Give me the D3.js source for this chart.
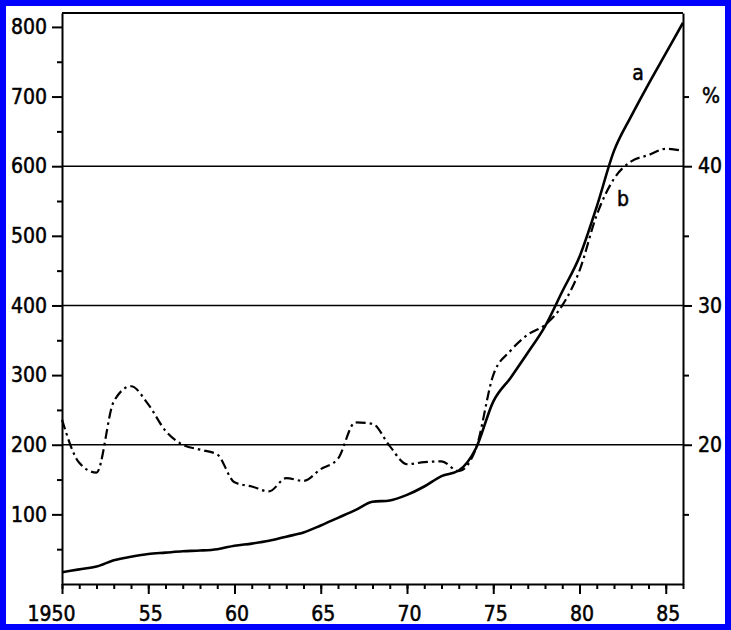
<!DOCTYPE html>
<html>
<head>
<meta charset="utf-8">
<script src="https://cdn.jsdelivr.net/npm/d3@7"></script>
<style>
  body { margin: 0; background: #fff; }
  svg text { font-family: "DejaVu Sans Condensed", "DejaVu Sans", sans-serif; font-stretch: condensed; font-size: 21px; fill: #000; stroke: #000; stroke-width: 0.5px; }
</style>
</head>
<body>
<div id="chart"></div>
<script>
// years on the x axis
var years = d3.range(1950, 1987);

// curve a, read on the left scale
var seriesA = [17, 21, 25, 34, 39, 43, 45, 47, 48, 50,
               55, 58, 62, 68, 74, 84, 95, 106, 118, 120,
               128, 140, 155, 163, 195, 262, 296, 332, 370, 420,
               470, 542, 622, 672, 718, 762, 806];

// curve b, read on the right (%) scale
var seriesB = [21.8, 18.7, 18.0, 23.1, 24.2, 22.9, 21.0, 20.0, 19.65, 19.3,
               17.3, 17.0, 16.65, 17.6, 17.4, 18.25, 19.0, 21.6, 21.5, 19.9,
               18.6, 18.75, 18.8, 18.1, 19.75, 25.0, 26.75, 27.9, 28.6, 30.0,
               32.5, 36.5, 39.1, 40.35, 40.8, 41.25, 41.1];

var leftTicks = [100, 200, 300, 400, 500, 600, 700, 800];
var leftMinor = [50, 150, 250, 350, 450, 550, 650, 750];
var rightTicks = [20, 30, 40];
var rightMinor = [15, 25, 35, 45];
var gridValues = [200, 400, 600];
var xMajor = [1950, 1955, 1960, 1965, 1970, 1975, 1980, 1985];

var W = 731, H = 630;
var mLeft = 62, mRight = 683, mTop = 13, mBottom = 584;

var svg = d3.select("#chart").append("svg")
    .attr("width", W)
    .attr("height", H);

var x = d3.scaleLinear().domain([1950, 1986]).range([mLeft, mRight]);
var yL = d3.scaleLinear().domain([0, 820]).range([mBottom, mTop]);
var yR = d3.scaleLinear().domain([10, 51]).range([mBottom, mTop]);

// grid lines
svg.selectAll("line.grid")
    .data(gridValues)
    .enter().append("line")
    .attr("class", "grid")
    .attr("x1", mLeft).attr("x2", mRight)
    .attr("y1", d => yL(d)).attr("y2", d => yL(d))
    .attr("stroke", "#000").attr("stroke-width", 1.6);

// frame top
svg.append("line")
    .attr("x1", mLeft).attr("x2", mRight)
    .attr("y1", mTop).attr("y2", mTop)
    .attr("stroke", "#000").attr("stroke-width", 2);

// left axis
svg.append("g")
    .attr("transform", `translate(${mLeft},0)`)
    .call(d3.axisLeft(yL).tickValues(leftMinor).tickSize(5).tickFormat(""))
    .call(g => g.select(".domain").remove());
svg.append("g")
    .attr("transform", `translate(${mLeft},0)`)
    .call(d3.axisLeft(yL).tickValues(leftTicks).tickSize(10).tickSizeOuter(0).tickPadding(5));

// right axis
svg.append("g")
    .attr("transform", `translate(${mRight},0)`)
    .call(d3.axisRight(yR).tickValues(rightMinor).tickSize(6).tickFormat(""))
    .call(g => g.select(".domain").remove());
svg.append("g")
    .attr("transform", `translate(${mRight},0)`)
    .call(d3.axisRight(yR).tickValues(rightTicks).tickSize(9).tickSizeOuter(0).tickPadding(6));

// bottom axis
svg.append("g")
    .attr("transform", `translate(0,${mBottom})`)
    .call(d3.axisBottom(x).tickValues(years).tickSize(5).tickFormat(""))
    .call(g => g.select(".domain").remove());
var gb = svg.append("g")
    .attr("transform", `translate(0,${mBottom})`)
    .call(d3.axisBottom(x).tickValues(xMajor).tickSize(10).tickSizeOuter(0).tickPadding(12)
        .tickFormat(d => d === 1950 ? "1950" : String(d % 100)));
gb.selectAll(".tick text").attr("dx", d => d === 1950 ? -11 : 2);

svg.selectAll(".tick line, .domain").attr("stroke", "#000").attr("stroke-width", 2);
svg.selectAll(".tick text").attr("font-size", null).attr("font-family", null);

// curve a
var lineA = d3.line()
    .x((d, i) => x(years[i]))
    .y(d => yL(d))
    .curve(d3.curveMonotoneX);
svg.append("path")
    .datum(seriesA)
    .attr("d", lineA)
    .attr("fill", "none")
    .attr("stroke", "#000")
    .attr("stroke-width", 2.6);

// curve b
var lineB = d3.line()
    .x((d, i) => x(years[i]))
    .y(d => yR(d))
    .curve(d3.curveMonotoneX);
svg.append("path")
    .datum(seriesB)
    .attr("d", lineB)
    .attr("fill", "none")
    .attr("stroke", "#000")
    .attr("stroke-width", 2.2)
    .attr("stroke-dasharray", "10,4,2.5,4");

// labels
svg.append("text").attr("x", 638).attr("y", 80).attr("text-anchor", "middle").text("a");
svg.append("text").attr("x", 623).attr("y", 206).attr("text-anchor", "middle").text("b");
svg.append("text").attr("x", 711).attr("y", 103).attr("text-anchor", "middle").text("%");

// blue border
svg.append("rect")
    .attr("x", 3).attr("y", 3)
    .attr("width", W - 6).attr("height", H - 6)
    .attr("fill", "none")
    .attr("stroke", "#0000ff")
    .attr("stroke-width", 6);
</script>
</body>
</html>
